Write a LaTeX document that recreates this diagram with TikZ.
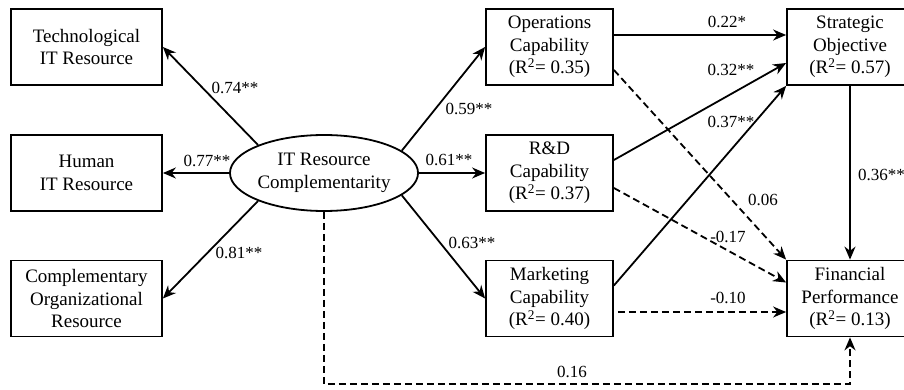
\documentclass[tikz,border=0pt]{standalone}
\usepackage{fontspec}
\setmainfont{Liberation Serif}
\usetikzlibrary{arrows.meta,shapes.geometric,positioning}

\begin{document}
\begin{tikzpicture}[
        x=1pt, y=-1pt,
        var box/.style = {
            draw,
            line width=1.8pt,
            align=center,
            inner sep=0pt,
            minimum height=76pt,
            font=\fontsize{19}{22.5}\selectfont},
        latent/.style = {
            ellipse,
            draw,
            line width=1.8pt,
            align=center,
            inner sep=0pt,
            minimum width=178pt,
            minimum height=76pt,
            font=\fontsize{19}{22.5}\selectfont},
        sig path/.style = {
            line width=1.8pt,
            -{Stealth[length=13pt,width=11pt]}},
        ns path/.style = {
            sig path,
            dash pattern=on 7pt off 4pt},
        coef/.style = {font=\fontsize{17}{20}\selectfont, inner sep=0pt}
    ]
    \useasboundingbox (0,0) rectangle (904,390);
    \clip (0,0) rectangle (904,390);

    \node[var box, minimum width=151pt] (tech) at (86.5,47) {Technological\\IT Resource};
    \node[var box, minimum width=151pt] (human) at (86.5,173) {Human\\IT Resource};
    \node[var box, minimum width=151pt] (comp) at (86.5,298.5) {Complementary\\Organizational\\Resource};
    \node[latent] (itrc) at (324,173) {IT Resource\\Complementarity};

    \node[var box, minimum width=127pt] (ops) at (549.5,47) {Operations\\Capability\\(R\textsuperscript{2}= 0.35)};
    \node[var box, minimum width=127pt] (rd) at (549.5,173) {R\&D\\Capability\\(R\textsuperscript{2}= 0.37)};
    \node[var box, minimum width=127pt] (mkt) at (549.5,298.5) {Marketing\\Capability\\(R\textsuperscript{2}= 0.40)};

    \node[var box, minimum width=126pt] (strat) at (850,47) {Strategic\\Objective\\(R\textsuperscript{2}= 0.57)};
    \node[var box, minimum width=126pt] (fin) at (850,298.5) {Financial\\Performance\\(R\textsuperscript{2}= 0.13)};
    \coordinate (low) at (850,384);

    % loadings
    \draw[sig path] (itrc.157) -- (tech.east);
    \draw[sig path] (itrc.west) -- (human.east);
    \draw[sig path] (itrc.203) -- (comp.east);
    \draw[sig path] (itrc.16) -- (ops.west);
    \draw[sig path] (itrc.east) -- (rd.west);
    \draw[sig path] (itrc.-16) -- (mkt.west);

    % structural paths
    \draw[sig path] ([yshift=12pt]ops.east) -- ([yshift=12pt]strat.west);
    \draw[sig path] ([yshift=13pt]rd.east) -- ([yshift=-16pt]strat.west);
    \draw[sig path] ([yshift=13pt]mkt.east) -- (strat.south west);
    \draw[sig path] (strat) -- (fin);
    \draw[ns path] ([yshift=-23pt]ops.east) -- (fin.north west);
    \draw[ns path] ([yshift=-15pt]rd.east) -- ([yshift=16pt]fin.west);
    \draw[ns path] ([xshift=4pt,yshift=-13.5pt]mkt.east) -- ([yshift=-13.5pt]fin.west);
    \draw[ns path] (itrc.south) |- (low) -- (fin.south);

    \node[coef] (c74) at (235,88) {0.74**};
    \node[coef] (c77) at (207,161) {0.77**};
    \node[coef] (c81) at (239,253) {0.81**};
    \node[coef] (c59) at (469,109) {0.59**};
    \node[coef] (c61) at (449,160) {0.61**};
    \node[coef] (c63) at (472,243) {0.63**};
    \node[coef] (c22) at (727,22) {0.22*};
    \node[coef] (c32) at (731,70) {0.32**};
    \node[coef] (c37) at (731,122) {0.37**};
    \node[coef] (c06) at (763,200) {0.06};
    \node[coef] (c17) at (728,237) {-0.17};
    \node[coef] (c10) at (728,298) {-0.10};
    \node[coef] (c16) at (572,372) {0.16};
    \node[coef, anchor=west] (c36) at (858,175) {0.36**};
\end{tikzpicture}
\end{document}
